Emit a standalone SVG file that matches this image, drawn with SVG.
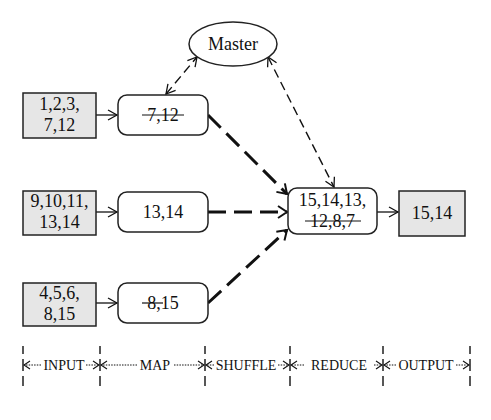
<svg xmlns="http://www.w3.org/2000/svg" width="491" height="420" viewBox="0 0 491 420">
<style>
text{font-family:"Liberation Serif","Times New Roman",serif;font-size:18px;fill:#111;text-anchor:middle}
.lbl{font-size:14px}
.in{fill:#e6e6e6;stroke:#222;stroke-width:1.5}
.nd{fill:#fff;stroke:#222;stroke-width:1.5}
.strike{stroke:#111;stroke-width:1.2}
.solid{stroke:#111;stroke-width:1.3;fill:none}
.thick{stroke:#111;stroke-width:3;fill:none;stroke-dasharray:18 8}
.ctrl{stroke:#111;stroke-width:1.4;fill:none;stroke-dasharray:9 5}
.dot{stroke:#111;stroke-width:1;fill:none;stroke-dasharray:1.5 1.2}
.tick{stroke:#111;stroke-width:1.4;stroke-dasharray:8 5 12 5 10}
</style>
<defs>
<marker id="a" markerUnits="userSpaceOnUse" markerWidth="14" markerHeight="14" viewBox="-12 -7 14 14" refX="0" refY="0" orient="auto-start-reverse">
<path d="M-9,-5 L0,0 L-9,5" fill="none" stroke="#111" stroke-width="1.3"/>
</marker>
<marker id="at" markerUnits="userSpaceOnUse" markerWidth="14" markerHeight="16" viewBox="-12 -8 14 16" refX="0" refY="0" orient="auto">
<path d="M-9,-6 L0,0 L-9,6" fill="none" stroke="#111" stroke-width="2"/>
</marker>
<marker id="s" markerUnits="userSpaceOnUse" markerWidth="10" markerHeight="10" viewBox="-8 -5 10 10" refX="0" refY="0" orient="auto-start-reverse">
<path d="M-6,-4 L0,0 L-6,4" fill="none" stroke="#111" stroke-width="1.1"/>
</marker>
</defs>

<g id="connectors">
<line class="solid" x1="96" y1="115" x2="117" y2="115" marker-end="url(#a)"/>
<line class="solid" x1="96" y1="212" x2="117" y2="212" marker-end="url(#a)"/>
<line class="solid" x1="96" y1="303" x2="117" y2="303" marker-end="url(#a)"/>
<line class="solid" x1="377" y1="212" x2="398" y2="212" marker-end="url(#a)"/>
<line class="thick" x1="208" y1="115" x2="287" y2="194" marker-end="url(#at)"/>
<line class="thick" x1="208" y1="212" x2="287" y2="212" marker-end="url(#at)"/>
<line class="thick" x1="208" y1="303" x2="287" y2="230" marker-end="url(#at)"/>
<line class="ctrl" x1="166" y1="94" x2="197" y2="57" marker-start="url(#a)" marker-end="url(#a)"/>
<line class="ctrl" x1="268" y1="57" x2="334" y2="187" marker-start="url(#a)" marker-end="url(#a)"/>
</g>

<g id="master">
<ellipse cx="233" cy="44" rx="44" ry="22" class="nd"/>
<text x="233" y="50">Master</text>
</g>

<g id="input1">
<rect x="23" y="93" width="73" height="45" class="in"/>
<text x="59.5" y="110">1,2,3,</text>
<text x="59.5" y="131">7,12</text>
</g>
<g id="input2">
<rect x="23" y="191" width="73" height="44" class="in"/>
<text x="59.5" y="206.5">9,10,11,</text>
<text x="59.5" y="228">13,14</text>
</g>
<g id="input3">
<rect x="23" y="283" width="73" height="43" class="in"/>
<text x="59.5" y="299">4,5,6,</text>
<text x="59.5" y="320">8,15</text>
</g>

<g id="map1">
<rect x="118" y="95" width="90" height="40" rx="9" class="nd"/>
<text x="163" y="121">7,12</text>
<line class="strike" x1="142" y1="115" x2="184" y2="115"/>
</g>
<g id="map2">
<rect x="118" y="192" width="90" height="40" rx="9" class="nd"/>
<text x="163" y="218">13,14</text>
</g>
<g id="map3">
<rect x="118" y="283" width="90" height="40" rx="9" class="nd"/>
<text x="163" y="309">8,15</text>
<line class="strike" x1="142" y1="303" x2="163" y2="303"/>
</g>

<g id="reduce">
<rect x="288" y="188" width="89" height="46" rx="9" class="nd"/>
<text x="332.5" y="205.5">15,14,13,</text>
<text x="332.5" y="226.5">12,8,7</text>
<line class="strike" x1="305" y1="221" x2="361" y2="221"/>
</g>

<g id="output">
<rect x="399" y="191" width="66" height="45" class="in"/>
<text x="432" y="219">15,14</text>
</g>

<g id="phases">
<line class="tick" x1="23" y1="346" x2="23" y2="387"/>
<line class="tick" x1="100" y1="346" x2="100" y2="387"/>
<line class="tick" x1="205" y1="346" x2="205" y2="387"/>
<line class="tick" x1="290" y1="346" x2="290" y2="387"/>
<line class="tick" x1="383" y1="346" x2="383" y2="387"/>
<line class="tick" x1="470" y1="346" x2="470" y2="387"/>

<line class="dot" x1="41" y1="365" x2="24" y2="365" marker-end="url(#s)"/>
<line class="dot" x1="86" y1="365" x2="99" y2="365" marker-end="url(#s)"/>
<text class="lbl" x="64" y="369.5">INPUT</text>

<line class="dot" x1="137" y1="365" x2="101" y2="365" marker-end="url(#s)"/>
<line class="dot" x1="174" y1="365" x2="204" y2="365" marker-end="url(#s)"/>
<text class="lbl" x="155" y="369.5">MAP</text>

<line class="dot" x1="214" y1="365" x2="206" y2="365" marker-end="url(#s)"/>
<line class="dot" x1="278" y1="365" x2="289" y2="365" marker-end="url(#s)"/>
<text class="lbl" x="246" y="369.5">SHUFFLE</text>

<line class="dot" x1="304" y1="365" x2="291" y2="365" marker-end="url(#s)"/>
<line class="dot" x1="374" y1="365" x2="382" y2="365" marker-end="url(#s)"/>
<text class="lbl" x="339" y="369.5">REDUCE</text>

<line class="dot" x1="396" y1="365" x2="384" y2="365" marker-end="url(#s)"/>
<line class="dot" x1="456" y1="365" x2="469" y2="365" marker-end="url(#s)"/>
<text class="lbl" x="426" y="369.5">OUTPUT</text>
</g>
</svg>
